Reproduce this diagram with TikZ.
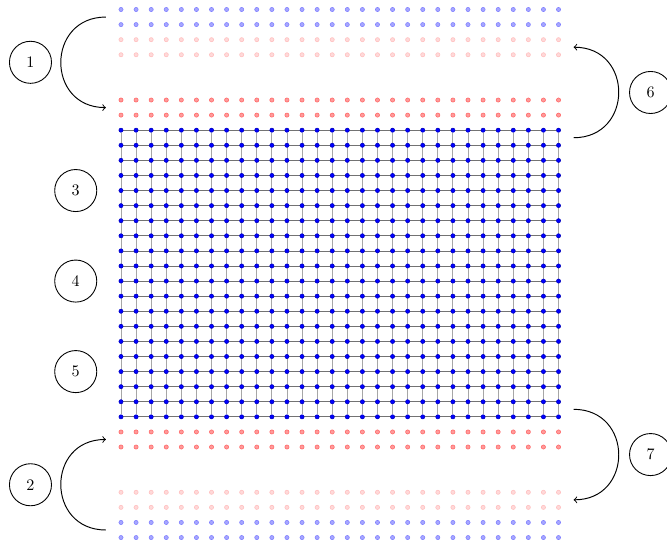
\documentclass[tikz,border=0pt]{standalone}
\usetikzlibrary{backgrounds}

\begin{document}
\begin{tikzpicture}[x=0.33cm, y=0.33cm,
  gdot/.style={circle, inner sep=0pt, minimum size=2.6pt, fill=blue,
               draw=blue!75!black, line width=0.35pt},
  bdot/.style={gdot, fill=blue!35, draw=blue!50},
  pdot/.style={gdot, fill=red!15, draw=red!25},
  rdot/.style={gdot, fill=red!40, draw=red!60},
  hline/.style={draw=black!55, line width=0.45pt},
  vline/.style={draw=black!35, line width=0.55pt},
  stage/.style={draw, circle, minimum size=0.92cm, inner sep=0pt, line width=0.55pt},
  arr/.style={->, line width=0.6pt},
]
\useasboundingbox (-8.02,-0.4) rectangle (36.19,35.63);

% Lattice
\foreach \i in {0,...,29}
  \foreach \j in {8,...,27}
    \node[gdot] (g-\i-\j) at (\i,\j) {};

\begin{pgfonlayer}{background}
  \foreach \j in {8,...,27}
    \draw[hline] (g-0-\j) -- (g-29-\j);
  \foreach \i in {0,...,29}
    \draw[vline] (g-\i-8) -- (g-\i-27);
\end{pgfonlayer}

% Loose rows above and below
\foreach \j/\s in {0/bdot, 1/bdot, 2/pdot, 3/pdot, 6/rdot, 7/rdot,
                   28/rdot, 29/rdot, 32/pdot, 33/pdot, 34/bdot, 35/bdot}
  \foreach \i in {0,...,29}
    \node[\s] (d-\i-\j) at (\i,\j) {};

% Stage labels
\node[stage] (s1) at (-6,31.5) {1};
\node[stage] (s2) at (-6,3.5) {2};
\node[stage] (s3) at (-3,23) {3};
\node[stage] (s4) at (-3,17) {4};
\node[stage] (s5) at (-3,11) {5};
\node[stage] (s6) at (35.1,29.5) {6};
\node[stage] (s7) at (35.1,5.5) {7};

% Arrow ends
\coordinate (a1s) at (-1,34.5);
\coordinate (a1e) at (-1,28.5);
\coordinate (a2s) at (-1,0.5);
\coordinate (a2e) at (-1,6.5);
\coordinate (a6s) at (30,26.5);
\coordinate (a6e) at (30,32.5);
\coordinate (a7s) at (30,8.5);
\coordinate (a7e) at (30,2.5);

% Moves
\draw[arr] (a1s) to[out=180, in=180, looseness=1.7] (a1e);
\draw[arr] (a2s) to[out=180, in=180, looseness=1.7] (a2e);
\draw[arr] (a6s) to[out=0, in=0, looseness=1.7] (a6e);
\draw[arr] (a7s) to[out=0, in=0, looseness=1.7] (a7e);

\end{tikzpicture}
\end{document}
